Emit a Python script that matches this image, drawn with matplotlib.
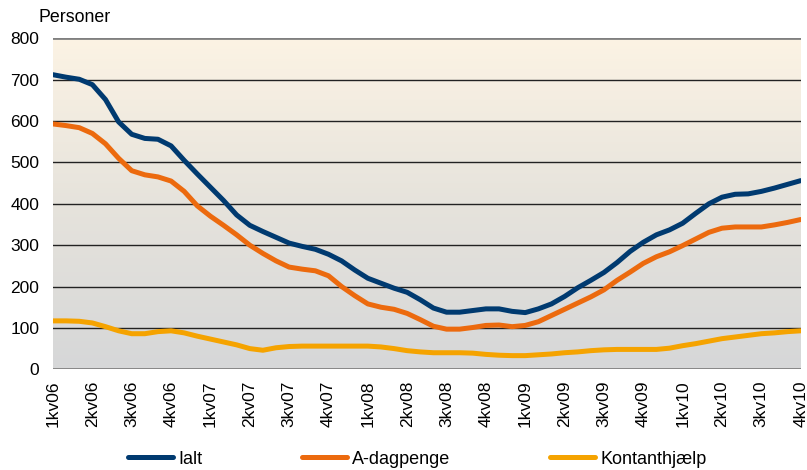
import matplotlib.pyplot as plt
import numpy as np
from matplotlib.colors import LinearSegmentedColormap

plt.rcParams['font.family'] = ['Liberation Sans', 'DejaVu Sans']

# monthly values, jan 2006 - okt 2010
ialt = [712, 706, 701, 688, 652, 598, 568, 558, 556, 540, 505, 472, 440, 408, 373, 348,
        333, 319, 305, 297, 290, 278, 262, 240, 220, 208, 196, 186, 168, 148, 138,
        138, 142, 146, 146, 140, 137, 146, 158, 176, 197, 215, 234, 258,
        285, 307, 325, 337, 353, 377, 400, 416, 423, 424, 430, 438, 447, 456]
adagpenge = [593, 589, 584, 570, 545, 510, 480, 470, 465, 455, 430, 395, 370, 348, 325, 300,
             280, 262, 247, 242, 238, 226, 200, 178, 158, 150, 145, 135, 120, 104, 97,
             97, 101, 106, 107, 103, 106, 115, 130, 145, 160, 175, 192, 215,
             235, 256, 272, 284, 299, 315, 331, 341, 344, 344, 344, 349, 355, 362]
kontant = [117, 117, 116, 112, 103, 93, 86, 86, 91, 93, 88, 80, 73, 66, 59, 50,
           46, 52, 55, 56, 56, 56, 56, 56, 56, 54, 50, 45, 42, 40, 40,
           40, 39, 36, 34, 33, 33, 35, 37, 40, 42, 45, 47, 48,
           48, 48, 48, 51, 57, 62, 68, 74, 78, 82, 86, 88, 91, 93]
quarters = [f"{q}kv{y:02d}" for y in range(6, 11) for q in range(1, 5)]

x = np.arange(len(ialt))

fig = plt.figure(figsize=(8.07, 4.70), dpi=100)
ax = fig.add_axes([0.0657, 0.2143, 0.9265, 0.7042])

# gradient background
cmap = LinearSegmentedColormap.from_list('bg', ['#d6d7d8', '#e6e3dc', '#fcf3e4'])
grad = np.linspace(0, 1, 256).reshape(-1, 1)
ax.imshow(grad, cmap=cmap, aspect='auto', origin='lower',
          extent=[0, len(x) - 1, 0, 800], zorder=0)

for v in range(100, 800, 100):
    ax.axhline(v, color='#222222', lw=1.0, zorder=1)
ax.axhline(800, color='#808080', lw=2.0, zorder=1)
ax.axhline(0, color='#808080', lw=2.0, zorder=1)

kw = dict(lw=3.6, zorder=3, solid_joinstyle='round', solid_capstyle='round')
ax.plot(x, ialt, color='#003a70', label='Ialt', **kw)
ax.plot(x, adagpenge, color='#ec6a0e', label='A-dagpenge', **kw)
ax.plot(x, kontant, color='#f5a300', label='Kontanthjælp', **kw)

ax.set_xlim(0, len(x) - 1)
ax.set_ylim(0, 800)
ax.set_yticks(range(0, 801, 100))
ax.set_xticks(np.arange(0, len(x), 3))
ax.set_xticklabels(quarters, rotation=90, fontsize=12.5)
ax.tick_params(axis='y', labelsize=12.5, length=0, pad=10)
ax.tick_params(axis='x', length=0, pad=8)
for s in ax.spines.values():
    s.set_visible(False)

fig.text(38 / 807, 1 - 18 / 470, 'Personer', fontsize=12.8, ha='left', va='center')

fig.legend(loc='center', bbox_to_anchor=(417 / 807, 1 - 459 / 470), ncol=3, frameon=False,
           fontsize=13, handlelength=2.5, handletextpad=0.3, columnspacing=5.5)

plt.savefig('out.png', dpi=100)
